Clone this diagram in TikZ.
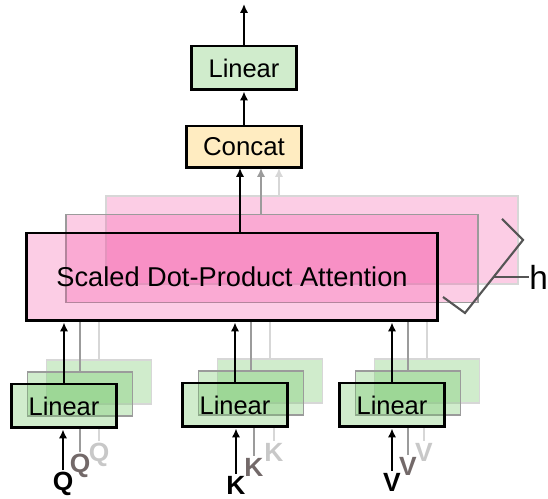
\documentclass[tikz,border=0pt]{standalone}
\usepackage{fontspec}
\setmainfont{Liberation Sans}
\usetikzlibrary{arrows.meta}
\definecolor{attpink}{RGB}{244,77,162}
\definecolor{lingreen}{RGB}{120,200,110}
\definecolor{catyellow}{RGB}{255,236,193}
\definecolor{midgray}{RGB}{155,155,155}
\definecolor{ghostgray}{RGB}{215,215,215}
\definecolor{bracegray}{RGB}{85,85,85}
\definecolor{labgray}{RGB}{115,105,105}
\definecolor{lablight}{RGB}{200,200,200}

\begin{document}
\begin{tikzpicture}[x=0.02cm,y=-0.02cm,>={Latex[length=1.8mm,width=1.7mm]}]

%
% Styles
%
\tikzstyle{att} = [rectangle,fill=attpink,fill opacity=0.28,text opacity=1,minimum width=8.24cm,minimum height=1.76cm,line width=1.1pt]
\tikzstyle{lin} = [rectangle,fill=lingreen,fill opacity=0.35,text opacity=1,minimum width=2.1cm,minimum height=0.88cm,line width=1.1pt,font=\fontsize{14.5}{17}\selectfont]
\tikzstyle{lab} = [inner sep=1pt,font=\fontsize{15}{17}\selectfont\bfseries]
\tikzstyle{blk} = [line width=1.4pt]
\tikzstyle{glin} = [midgray,line width=1.1pt]
\tikzstyle{llin} = [ghostgray,line width=1.1pt]

\useasboundingbox (0,0) rectangle (548,499);

% heads
\node[att,draw=ghostgray] (att3) at (312,240) {};
\node[att,draw=midgray] (att2) at (272,258.5) {};
\node[att,draw=black,line width=1.7pt,font=\fontsize{15.5}{18}\selectfont] (att1) at (232,277) {Scaled Dot-Product Attention};

% output
\node[rectangle,draw=black,line width=1.7pt,fill=catyellow,minimum width=2.3cm,minimum height=0.84cm,font=\fontsize{14.7}{17}\selectfont] (cat) at (244,147) {Concat};
\node[rectangle,draw=black,line width=1.7pt,fill=lingreen!35,minimum width=2.1cm,minimum height=0.88cm,font=\fontsize{14.5}{17}\selectfont] (lout) at (244,68) {Linear};
\coordinate (out) at (244,4);

% projections
\node[lin,draw=ghostgray] (q3) at (99,382) {};
\node[lin,draw=midgray] (q2) at (80,394) {};
\node[lin,draw=black,line width=1.7pt] (q1) at (64,406) {Linear};
\node[lin,draw=ghostgray] (k3) at (270,381) {};
\node[lin,draw=midgray] (k2) at (251,393) {};
\node[lin,draw=black,line width=1.7pt] (k1) at (235,405) {Linear};
\node[lin,draw=ghostgray] (v3) at (427,381) {};
\node[lin,draw=midgray] (v2) at (408,393) {};
\node[lin,draw=black,line width=1.7pt] (v1) at (392,405) {Linear};

% inputs
\node[lab] (qa) at (63,484) {Q};
\node[lab,text=labgray] (qb) at (80,466) {Q};
\node[lab,text=lablight] (qc) at (99,455) {Q};
\node[lab] (ka) at (236,485) {K};
\node[lab,text=labgray] (kb) at (254,467) {K};
\node[lab,text=lablight] (kc) at (274,452) {K};
\node[lab] (va) at (392,482) {V};
\node[lab,text=labgray] (vb) at (408,466) {V};
\node[lab,text=lablight] (vc) at (424,452) {V};

\draw[->,blk] (qa) -- (qa |- q1.south);
\draw[glin] (qb) -- (qb |- q1.south);
\draw[llin] (qc) -- (qc |- q1.south);
\draw[->,blk] (ka) -- (ka |- k1.south);
\draw[glin] (kb) -- (kb |- k1.south);
\draw[llin] (kc) -- (kc |- k1.south);
\draw[->,blk] (va) -- (va |- v1.south);
\draw[glin] (vb) -- (vb |- v1.south);
\draw[llin] (vc) -- (vc |- v1.south);

\draw[->,blk] (q1) -- (q1 |- att1.south);
\draw[glin] (q2.north) -- (q2.north |- att1.south);
\draw[llin] (q3.north) -- (q3.north |- att1.south);
\draw[->,blk] (k1) -- (k1 |- att1.south);
\draw[glin] (k2.north) -- (k2.north |- att1.south);
\draw[llin] (k3.north) -- (k3.north |- att1.south);
\draw[->,blk] (v1) -- (v1 |- att1.south);
\draw[glin] (v2.north) -- (v2.north |- att1.south);
\draw[llin] (v3.north) -- (v3.north |- att1.south);

% into concat
\coordinate (cb) at (240,168);
\coordinate (cg) at (261,168);
\coordinate (cl) at (279,168);
\draw[->,blk] (att1.north -| cb) -- (cb);
\draw[->,glin] (att2.north -| cg) -- (cg);
\draw[->,llin] (att3.north -| cl) -- (cl);

\draw[->,blk] (cat) -- (lout);
\draw[->,blk] (lout) -- (out);

% h heads
\draw[bracegray,line width=1.2pt] (502,219) -- (523,240) -- (465,313) -- (443,297);
\node[font=\fontsize{19}{22}\selectfont,anchor=west,inner sep=0pt] (h) at (529,277) {h};
\draw[bracegray,line width=1.2pt] (494,277) -- (h.west);

\end{tikzpicture}
\end{document}
